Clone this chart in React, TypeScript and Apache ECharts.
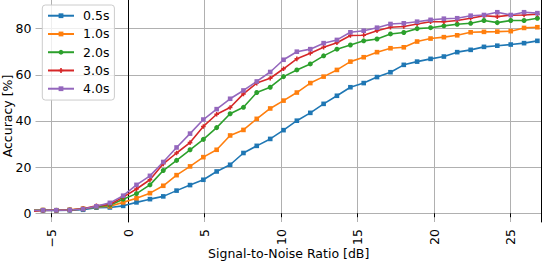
import React, { useEffect, useRef } from "react";
import * as echarts from "echarts";

const snr = [
  -6.43, -5.56, -4.69, -3.81, -2.94, -2.07, -1.19, -0.32, 0.55, 1.43, 2.3, 3.17, 4.05,
  4.92, 5.79, 6.67, 7.54, 8.41, 9.29, 10.16, 11.03, 11.91, 12.78, 13.65, 14.53, 15.4,
  16.27, 17.15, 18.02, 18.89, 19.77, 20.64, 21.51, 22.39, 23.26, 24.13, 25.01, 25.88, 26.75,
];

const acc05 = [
  1.2, 1.3, 1.2, 1.3, 1.5, 2.4, 2.5, 3.2, 4.7, 6.1, 7.3, 9.8, 12.2, 14.5, 18.1, 21.0,
  26.1, 29.2, 32.2, 36.0, 40.1, 43.5, 47.4, 50.9, 54.6, 56.4, 59.0, 61.1, 64.3, 65.7,
  66.9, 67.9, 69.8, 70.8, 72.1, 72.6, 73.1, 73.7, 74.7,
];
const acc10 = [
  1.5, 1.4, 1.3, 1.5, 2.0, 2.7, 3.0, 4.7, 6.5, 8.7, 11.9, 16.5, 20.3, 24.3, 27.5, 33.7,
  36.1, 40.9, 45.4, 48.8, 52.3, 56.4, 59.2, 62.1, 65.7, 67.6, 69.8, 71.5, 71.9, 74.4,
  75.7, 76.3, 77.1, 78.4, 78.6, 78.7, 78.9, 80.3, 80.6,
];
const acc20 = [
  1.2, 1.3, 1.3, 1.4, 1.8, 2.8, 3.5, 6.1, 8.5, 12.3, 18.5, 22.9, 27.5, 32.0, 37.1, 43.1,
  45.9, 52.3, 54.6, 59.2, 62.1, 64.7, 68.2, 71.1, 72.9, 74.7, 75.5, 77.7, 78.3, 80.0,
  80.4, 81.2, 81.9, 82.3, 83.5, 82.6, 83.5, 83.5, 84.5,
];
const acc30 = [
  0.8, 1.2, 1.3, 1.4, 1.9, 3.2, 3.8, 7.0, 10.5, 14.5, 21.4, 26.1, 30.6, 37.6, 42.9, 45.8,
  51.7, 56.4, 58.5, 62.6, 66.9, 69.3, 71.9, 73.9, 77.0, 77.1, 79.1, 80.6, 80.9, 82.0,
  83.0, 83.0, 83.5, 84.5, 85.6, 85.2, 85.8, 85.9, 86.2,
];
const acc40 = [
  1.2, 1.3, 1.3, 1.4, 1.8, 3.0, 4.5, 7.6, 12.3, 16.2, 22.2, 28.5, 34.5, 40.6, 45.1, 49.6,
  53.2, 57.1, 61.2, 66.5, 70.0, 71.1, 73.7, 75.1, 78.4, 79.1, 80.4, 82.0, 82.3, 83.0,
  83.8, 84.3, 84.5, 85.6, 85.9, 87.1, 85.9, 87.1, 86.7,
];

const seriesNames = ["0.5s", "1.0s", "2.0s", "3.0s", "4.0s"];
const seriesValues = [acc05, acc10, acc20, acc30, acc40];
const seriesColors = ["#1f77b4", "#ff7f0e", "#2ca02c", "#d62728", "#9467bd"];
const seriesSymbols = [
  "rect",
  "rect",
  "circle",
  "path://M1,0H2V1H3V2H2V3H1V2H0V1H1Z",
  "rect",
];

const xTicks = [-5, 0, 5, 10, 15, 20, 25];
const yTicks = [0, 20, 40, 60, 80];

const FONT = "DejaVu Sans";

export default function App() {
  const ref = useRef<HTMLDivElement>(null);
  useEffect(() => {
    if (!ref.current) return;
    const chart = echarts.init(ref.current, null, { renderer: "svg" });
    const yMin = -3.8;
    const yMax = 92.4;
    chart.setOption({
      animation: false,
      textStyle: { fontFamily: FONT },
      grid: { left: 35.5, right: 0.5, top: 0, bottom: 40 },
      xAxis: {
        type: "value",
        min: -6.05,
        max: 27.02,
        axisLine: { show: false },
        axisTick: {
          show: true,
          length: 4,
          customValues: xTicks,
          lineStyle: { color: "#000", width: 1 },
        },
        axisLabel: {
          customValues: xTicks,
          rotate: 90,
          margin: 7,
          fontFamily: FONT,
          fontSize: 12.5,
          color: "#000",
          formatter: (v: number) => (v < 0 ? "\u2212" + Math.abs(v) : String(v)),
        },
        splitLine: { show: true, lineStyle: { color: "#b0b0b0", width: 1 } },
      },
      yAxis: [
        {
          type: "value",
          min: yMin,
          max: yMax,
          axisLine: { show: true, lineStyle: { color: "#000", width: 1 } },
          axisTick: {
            show: true,
            length: 3,
            customValues: yTicks,
            lineStyle: { color: "#b0b0b0", width: 1 },
          },
          axisLabel: {
            customValues: yTicks,
            margin: 4,
            fontFamily: FONT,
            fontSize: 12.5,
            color: "#000",
          },
          splitLine: { show: true, lineStyle: { color: "#b0b0b0", width: 1 } },
        },
        {
          type: "value",
          position: "right",
          min: yMin,
          max: yMax,
          axisLine: { show: true, lineStyle: { color: "#000", width: 1 } },
          axisTick: { show: false },
          axisLabel: { show: false },
          splitLine: { show: false },
        },
      ],
      legend: {
        orient: "vertical",
        left: 42.3,
        top: 5,
        padding: [1.6, 5, 2.2, 4.7],
        itemWidth: 26,
        itemHeight: 6,
        itemGap: 0,
        backgroundColor: "rgba(255,255,255,0.8)",
        borderColor: "#cccccc",
        borderWidth: 1,
        borderRadius: 3,
        data: seriesNames,
        textStyle: {
          fontFamily: FONT,
          fontSize: 12.5,
          color: "#000",
          lineHeight: 18.25,
          padding: [0, 0, 0, 4],
        },
      },
      graphic: [
        {
          type: "text",
          x: 7,
          y: 116,
          rotation: Math.PI / 2,
          style: {
            text: "Accuracy [%]",
            fontFamily: FONT,
            fontSize: 12.5,
            fill: "#000",
            align: "center",
            verticalAlign: "middle",
          },
        },
        {
          type: "text",
          x: 288.7,
          y: 253,
          style: {
            text: "Signal-to-Noise Ratio [dB]",
            fontFamily: FONT,
            fontSize: 12.5,
            fill: "#000",
            align: "center",
            verticalAlign: "middle",
          },
        },
      ],
      series: seriesNames.map((name, i) => ({
        name,
        type: "line",
        yAxisIndex: 0,
        clip: true,
        data: snr.map((x, j) => [x, seriesValues[i][j]]),
        symbol: seriesSymbols[i],
        symbolSize: i === 2 ? 5 : 4.6,
        lineStyle: { color: seriesColors[i], width: 1.6 },
        itemStyle: { color: seriesColors[i] },
        emphasis: { disabled: true },
      })),
    });
    return () => chart.dispose();
  }, []);
  return <div ref={ref} style={{ width: 542, height: 262, position: "absolute", left: 0, top: 0 }} />;
}
